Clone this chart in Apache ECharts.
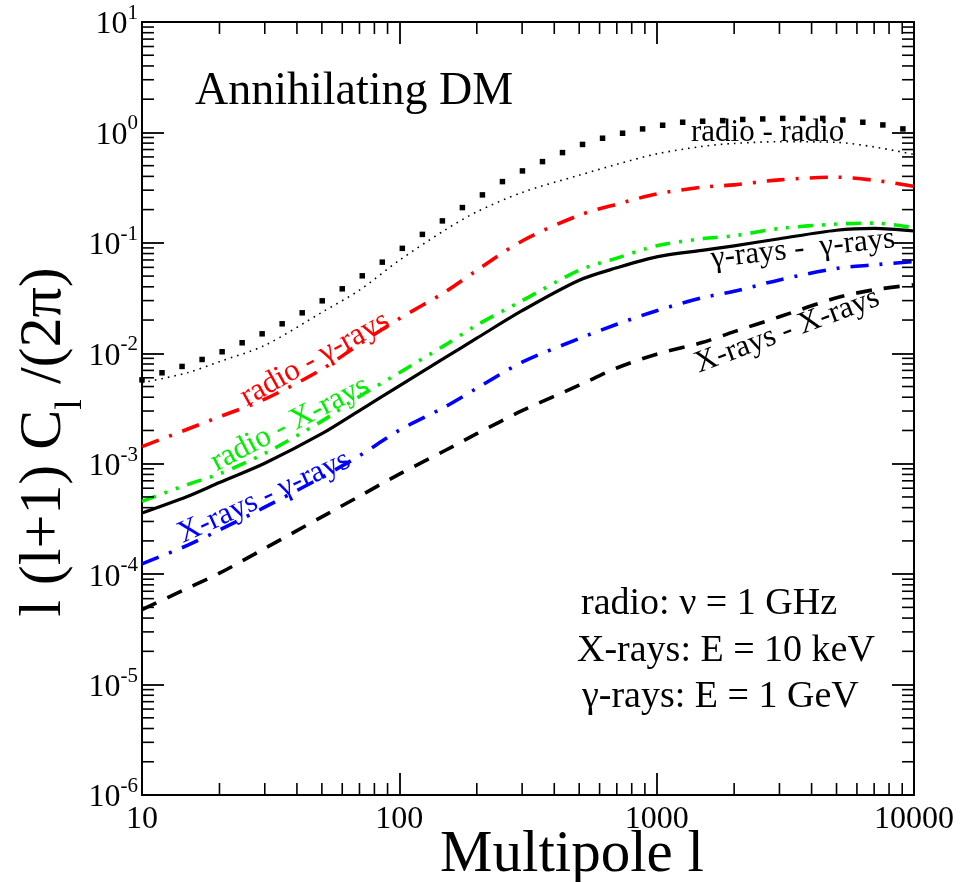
<!DOCTYPE html>
<html>
<head>
<meta charset="utf-8">
<title>Annihilating DM – angular power spectra</title>
<script src="https://cdn.jsdelivr.net/npm/echarts@6/dist/echarts.min.js"></script>
<style>
  html, body { margin: 0; padding: 0; background: #fff; }
  #chart { width: 975px; height: 882px; }
</style>
</head>
<body>
<div id="chart"></div>
<script>
// Multipoles at which the smooth curves are tabulated
const multipoles = [10, 15, 20, 30, 50, 70, 100, 150, 200, 300, 500, 700, 1000, 1500, 2000, 3000, 5000, 7000, 10000];

// l(l+1)C_l/(2pi) for each cross-correlation
const radioRadioLow = [5.41e-3, 6.66e-3, 8.4e-3, 1.18e-2, 2.35e-2, 3.73e-2, 6.95e-2, 0.130, 0.191, 0.286, 0.410, 0.514, 0.639, 0.747, 0.795, 0.824, 0.813, 0.739, 0.632];
const radioGamma    = [1.43e-3, 2.05e-3, 2.66e-3, 3.84e-3, 7.16e-3, 1.21e-2, 2.06e-2, 3.57e-2, 5.64e-2, 0.104, 0.178, 0.224, 0.277, 0.319, 0.335, 0.372, 0.393, 0.369, 0.325];
const radioXray     = [4.56e-4, 6.47e-4, 8.09e-4, 1.24e-3, 2.43e-3, 4.07e-3, 6.67e-3, 1.18e-2, 1.80e-2, 2.99e-2, 5.65e-2, 7.27e-2, 9.40e-2, 0.109, 0.116, 0.135, 0.148, 0.151, 0.137];
const gammaGamma    = [3.58e-4, 5.05e-4, 6.75e-4, 1.01e-3, 1.87e-3, 3.03e-3, 5.07e-3, 9.08e-3, 1.37e-2, 2.43e-2, 4.58e-2, 5.94e-2, 7.47e-2, 8.55e-2, 9.40e-2, 0.109, 0.130, 0.135, 0.128];
const xrayGamma     = [1.24e-4, 1.82e-4, 2.51e-4, 4.04e-4, 7.55e-4, 1.18e-3, 2.01e-3, 3.26e-3, 4.82e-3, 8.30e-3, 1.36e-2, 1.83e-2, 2.43e-2, 3.18e-2, 3.64e-2, 4.62e-2, 5.87e-2, 6.32e-2, 6.78e-2];
const xrayXray      = [4.77e-5, 7.45e-5, 1.02e-4, 1.71e-4, 3.30e-4, 5.08e-4, 8.05e-4, 1.31e-3, 1.87e-3, 3.02e-3, 5.14e-3, 7.36e-3, 9.82e-3, 1.25e-2, 1.57e-2, 2.14e-2, 3.18e-2, 3.76e-2, 4.17e-2];

// radio - radio, upper curve, drawn as square markers at its sampled multipoles
const squareMultipoles = [10, 11.96, 14.31, 17.12, 20.48, 24.50, 29.30, 35.05, 41.93, 50.16, 60.00, 71.77, 85.86, 102.7, 122.9, 147.0, 175.8, 210.3, 251.6, 300.9, 360.0, 430.6, 515.1, 616.2, 737.1, 881.7, 1055, 1262, 1509, 1805, 2160, 2583, 3090, 3696, 4421, 5289, 6326, 7568, 9053];
const radioRadioHigh   = [5.75e-3, 6.66e-3, 7.60e-3, 8.79e-3, 1.032e-2, 1.245e-2, 1.501e-2, 1.849e-2, 2.325e-2, 2.986e-2, 3.835e-2, 5.03e-2, 6.69e-2, 8.92e-2, 0.1193, 0.1581, 0.2087, 0.2719, 0.3587, 0.4483, 0.5441, 0.6567, 0.7786, 0.8861, 0.9835, 1.076, 1.162, 1.237, 1.263, 1.279, 1.311, 1.325, 1.339, 1.339, 1.339, 1.297, 1.237, 1.169, 1.076];

// Axis tick labels
const xTickValues = [10, 100, 1000, 10000];
const yTickExponents = [-6, -5, -4, -3, -2, -1, 0, 1];

const SERIF = "'Liberation Serif', 'Times New Roman', Times, serif";

const pairs = (xs, ys) => xs.map((x, i) => [x, ys[i]]);

// minor tick values inside each decade
function minorValues(fromExp, toExp) {
  const out = [];
  for (let e = fromExp; e < toExp; e++) {
    for (let m = 2; m <= 9; m++) out.push(m * Math.pow(10, e));
  }
  return out;
}

function minorTickSeries(values, dir) {
  return {
    type: 'custom',
    silent: true,
    clip: false,
    z: 10,
    data: values.map(v => dir === 'x' ? [v, 1] : [10, v]),
    renderItem: function (params, api) {
      const cs = params.coordSys;
      const style = { stroke: '#000', lineWidth: 1.6 };
      const len = 12;
      if (dir === 'x') {
        const x = api.coord([api.value(0), 1])[0];
        const yb = cs.y + cs.height;
        return { type: 'group', children: [
          { type: 'line', shape: { x1: x, y1: yb, x2: x, y2: yb - len }, style },
          { type: 'line', shape: { x1: x, y1: cs.y, x2: x, y2: cs.y + len }, style }
        ]};
      }
      const y = api.coord([10, api.value(1)])[1];
      const xr = cs.x + cs.width;
      return { type: 'group', children: [
        { type: 'line', shape: { x1: cs.x, y1: y, x2: cs.x + len, y2: y }, style },
        { type: 'line', shape: { x1: xr, y1: y, x2: xr - len, y2: y }, style }
      ]};
    }
  };
}

function curve(ys, color, type, width) {
  return {
    type: 'line',
    data: pairs(multipoles, ys),
    smooth: 0.3,
    showSymbol: false,
    symbol: 'none',
    silent: true,
    lineStyle: { color: color, width: width, type: type, cap: 'butt', join: 'round' },
    z: 3
  };
}

const axisCommonX = {
  type: 'log', logBase: 10, min: 10, max: 10000, splitNumber: 3,
  splitLine: { show: false },
  axisLine: { show: true, onZero: false, lineStyle: { color: '#000', width: 2 } },
  axisTick: { show: true, inside: true, length: 22, lineStyle: { color: '#000', width: 1.8 } }
};
const axisCommonY = {
  type: 'log', logBase: 10, min: 1e-6, max: 10, splitNumber: 7,
  splitLine: { show: false },
  axisLine: { show: true, onZero: false, lineStyle: { color: '#000', width: 2 } },
  axisTick: { show: true, inside: true, length: 22, lineStyle: { color: '#000', width: 1.8 } }
};

function label(text, x, y, rotDeg, color, size, align) {
  return {
    type: 'text', x: x, y: y, rotation: rotDeg * Math.PI / 180, z: 20, silent: true,
    style: {
      text: text, fill: color, font: size + 'px ' + SERIF,
      align: align || 'center', verticalAlign: 'middle',
      textAlign: align || 'center', textVerticalAlign: 'middle'
    }
  };
}

const chart = echarts.init(document.getElementById('chart'), null, { renderer: 'canvas' });

chart.setOption({
  animation: false,
  backgroundColor: '#fff',
  grid: { left: 142, right: 61, top: 22, bottom: 87, containLabel: false },
  xAxis: [
    Object.assign({}, axisCommonX, {
      position: 'bottom',
      axisLabel: {
        show: true, margin: 9, color: '#000', fontSize: 32, fontFamily: SERIF,
        formatter: v => (xTickValues.indexOf(Math.round(v)) >= 0 ? String(Math.round(v)) : '')
      }
    }),
    Object.assign({}, axisCommonX, { position: 'top', axisLabel: { show: false } })
  ],
  yAxis: [
    Object.assign({}, axisCommonY, {
      position: 'left',
      axisLabel: {
        show: true, margin: 4, color: '#000', fontFamily: SERIF,
        formatter: function (v) {
          const e = Math.round(Math.log10(v));
          if (yTickExponents.indexOf(e) < 0) return '';
          return '{b|10}{s|' + e + '}';
        },
        rich: {
          b: { fontSize: 32, fontFamily: SERIF, color: '#000', lineHeight: 38, verticalAlign: 'bottom' },
          s: { fontSize: 21, fontFamily: SERIF, color: '#000', lineHeight: 16, verticalAlign: 'top' }
        }
      }
    }),
    Object.assign({}, axisCommonY, { position: 'right', axisLabel: { show: false } })
  ],
  series: [
    {
      type: 'scatter',
      data: pairs(squareMultipoles, radioRadioHigh),
      symbol: 'rect', symbolSize: 5.5,
      itemStyle: { color: '#000', opacity: 1 },
      silent: true, z: 4
    },
    curve(radioRadioLow, '#000', [1.6, 5], 1.6),
    curve(radioGamma, '#ff0000', [18, 11, 3, 11], 3.6),
    curve(radioXray, '#00ee00', [15, 9, 3, 9, 3, 9], 3.6),
    curve(gammaGamma, '#000', 'solid', 3.2),
    curve(xrayGamma, '#0000ff', [18, 11, 3, 11], 3.6),
    curve(xrayXray, '#000', [16, 12], 3.6),
    minorTickSeries(minorValues(1, 4), 'x'),
    minorTickSeries(minorValues(-6, 1), 'y')
  ],
  graphic: [
    label('Annihilating DM', 195, 92, 0, '#000', 46, 'left'),
    label('radio - radio', 691, 133, 0, '#000', 31, 'left'),
    label('radio - \u03b3-rays', 315, 359, 29, '#ff0000', 31),
    label('radio - X-rays', 290, 424, 27.5, '#00ee00', 31),
    label('X-rays - \u03b3-rays', 264, 497, 24.5, '#0000ff', 31),
    label('\u03b3-rays -  \u03b3-rays', 803, 249, 6.3, '#000', 31),
    label('X-rays - X-rays', 787, 331, 20.5, '#000', 31),
    label('radio: \u03bd = 1 GHz', 581, 604, 0, '#000', 38, 'left'),
    label('X-rays: E = 10 keV', 577, 651, 0, '#000', 38, 'left'),
    label('\u03b3-rays: E = 1 GeV', 582, 697, 0, '#000', 38, 'left'),
    label('Multipole l', 572, 855, 0, '#000', 59),
    {
      type: 'text', x: 47, y: 442, rotation: Math.PI / 2, z: 20, silent: true,
      style: {
        text: '{t|l (l+1) C}{u|l}{t| /(2\u03c0)}',
        align: 'center', verticalAlign: 'middle', textAlign: 'center', textVerticalAlign: 'middle',
        rich: {
          t: { font: '60px ' + SERIF, fill: '#000', lineHeight: 66, verticalAlign: 'top' },
          u: { font: '38px ' + SERIF, fill: '#000', lineHeight: 38, padding: [38, 0, 0, 0], verticalAlign: 'top' }
        }
      }
    }
  ]
});
</script>
</body>
</html>
